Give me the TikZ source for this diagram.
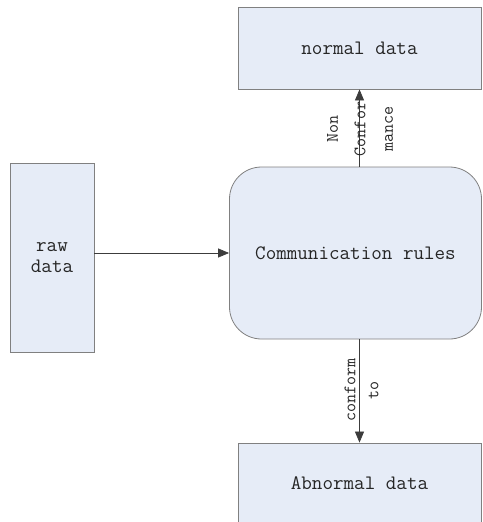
\documentclass[tikz,border=0pt]{standalone}
\usetikzlibrary{arrows.meta}
\definecolor{boxfill}{RGB}{230,236,247}
\definecolor{boxline}{RGB}{128,128,128}
\definecolor{conn}{RGB}{60,60,60}
\begin{document}
\begin{tikzpicture}[x=1pt,y=-1pt,
  databox/.style={draw=boxline,fill=boxfill,line width=0.8pt,inner sep=0pt,
    font=\fontsize{20.5}{21}\ttfamily,text=black!85,align=center},
  rulebox/.style={databox,rounded corners=32pt},
  conn/.style={draw=conn,line width=0.7pt,-{Triangle[length=11pt,width=9pt]}},
  lab/.style={rotate=90,align=center,inner sep=0pt,text=black!85}
]
\useasboundingbox (0,0) rectangle (482,522);
\node[databox,minimum width=243pt,minimum height=82pt] (normal) at (359.5,48) {normal data};
\node[rulebox,minimum width=252pt,minimum height=172pt] (rules) at (355.5,253) {Communication rules};
\node[databox,minimum width=84pt,minimum height=189pt] (raw) at (52,257.5) {raw\\data};
\node[databox,minimum width=243pt,minimum height=80pt] (abnormal) at (359.5,483) {Abnormal data};
\draw[conn] (raw.east |- rules.west) -- (rules.west);
\draw[conn] (normal.south |- rules.north) -- (normal.south);
\draw[conn] (normal.south |- rules.south) -- (abnormal.north);
\node[lab,font=\fontsize{17.5}{27.5}\ttfamily] (nonconf) at (360,129) {Non\\Confor\\mance};
\node[lab,font=\fontsize{17.5}{23}\ttfamily] (confto) at (361.5,390) {conform\\to};
\end{tikzpicture}
\end{document}
